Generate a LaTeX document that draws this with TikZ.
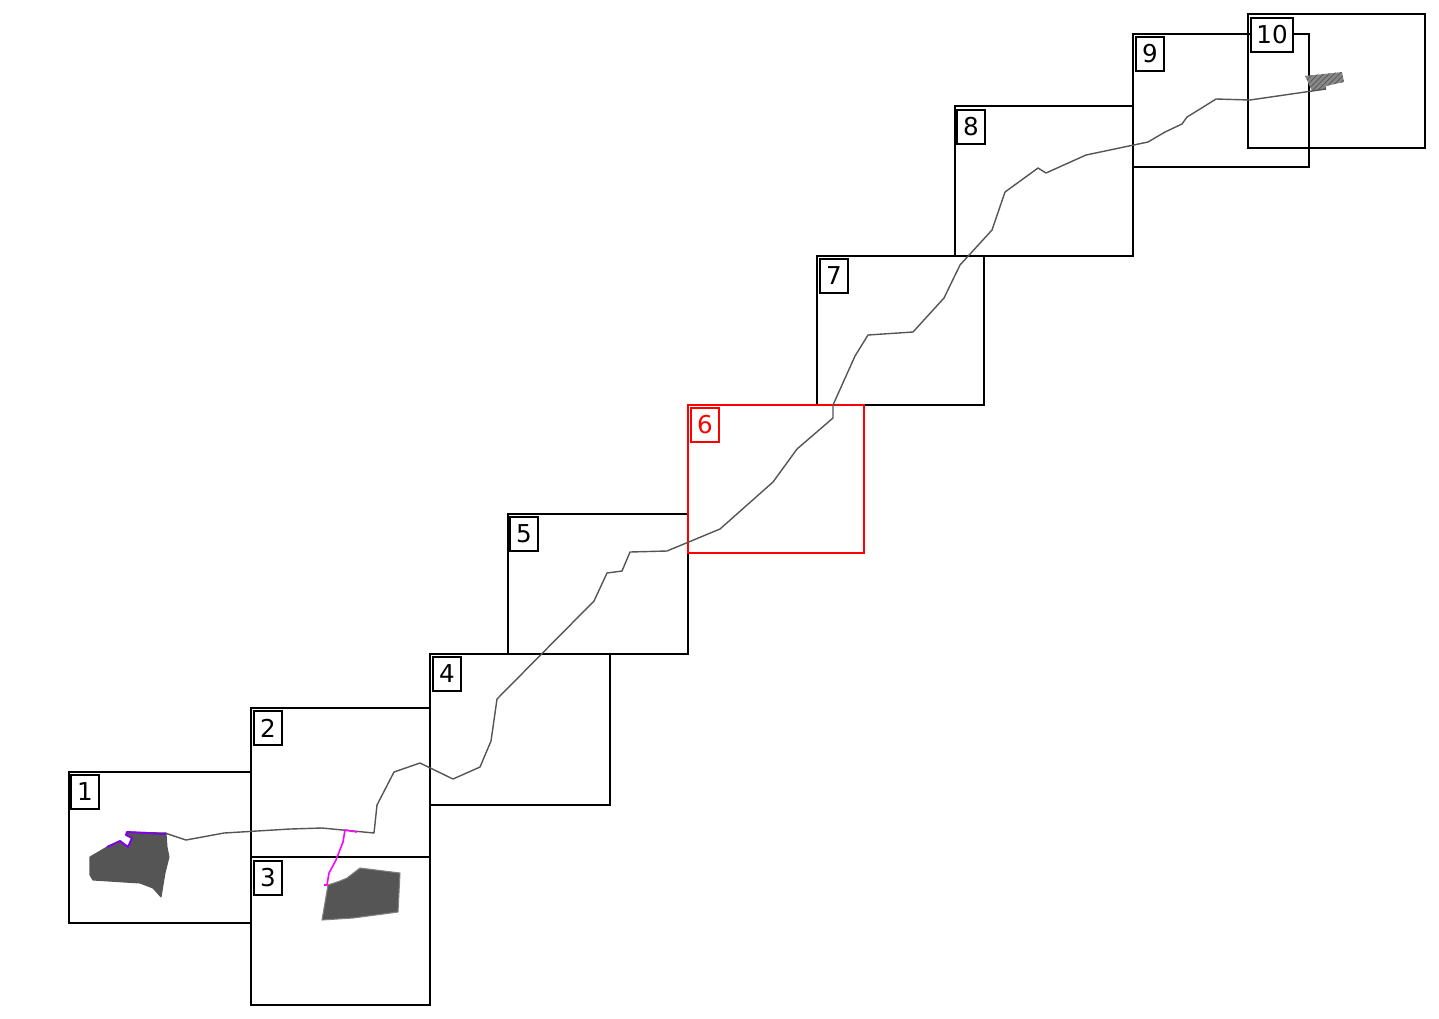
\documentclass[tikz,border=0pt]{standalone}
\usepackage{fontspec}
\setmainfont{DejaVu Sans}
\usetikzlibrary{patterns}
\definecolor{blobgray}{HTML}{555555}
\definecolor{pathviolet}{HTML}{7F00E6}
\definecolor{pathmagenta}{HTML}{FF00FF}

\begin{document}
\begin{tikzpicture}[x=0.02cm, y=-0.02cm,
   frame/.style={draw=black, line width=1.1pt},
   tag/.style={draw=black, fill=white, line width=1.1pt, minimum width=0.56cm, minimum height=0.68cm, inner sep=0pt, font=\fontsize{14}{16}\selectfont},
   track/.style={draw=blobgray, line width=0.8pt, line join=round},
   blob/.style={draw=gray, fill=blobgray, line width=0.6pt, line join=round}]

    \useasboundingbox (0,0) rectangle (1439,1018);

    % map frames
    \draw[frame] (69,772) rectangle (251,923);
    \draw[frame] (251,708) rectangle (430,857);
    \draw[frame] (251,857) rectangle (430,1005);
    \draw[frame] (430,654) rectangle (610,805);
    \draw[frame] (508,514) rectangle (688,654);
    \draw[frame] (817,256) rectangle (984,405);
    \draw[frame] (955,106) rectangle (1133,256);
    \draw[frame] (1133,34) rectangle (1309,167);
    \draw[frame] (1248,14) rectangle (1425,148);
    \draw[frame, draw=red] (688,405) rectangle (864,553);

    % areas
    \draw[blob, draw=blobgray] (127,832) -- (166,833) -- (167,847) -- (169,857) -- (165,873) -- (161,897)
       -- (153,888) -- (140,883) -- (93,880) -- (90,875) -- (90,857) -- (107,847) -- (120,841)
       -- (128,847) -- (132,838) -- (126,835) -- cycle;
    \draw[blob] (322,920) -- (328,885) -- (340,881) -- (347,878) -- (360,868) -- (400,873)
       -- (398,912) -- (353,918) -- cycle;
    \fill[blobgray!70] (1305,76) -- (1342,72) -- (1344,82) -- (1326,86) -- (1326,89) -- (1312,91) -- cycle;
    \fill[pattern=north east lines, pattern color=blobgray] (1305,76) -- (1342,72) -- (1344,82) -- (1326,86) -- (1326,89) -- (1312,91) -- cycle;

    % route
    \draw[track] (165,833) -- (186,840) -- (224,833) -- (290,829) -- (322,828) -- (374,833) -- (377,805)
       -- (394,772) -- (420,763) -- (453,779) -- (480,767) -- (491,741) -- (497,699) -- (594,601)
       -- (607,573) -- (622,571) -- (630,552) -- (667,551) -- (720,529) -- (773,482) -- (797,449)
       -- (833,418) -- (833,405) -- (855,356) -- (868,335) -- (913,332) -- (944,298) -- (960,265)
       -- (992,230) -- (1005,192) -- (1038,168) -- (1046,173) -- (1086,155) -- (1148,142) -- (1165,132)
       -- (1182,124) -- (1187,117) -- (1200,109) -- (1216,99) -- (1250,100) -- (1312,91) -- (1326,89);

    % highlighted parts
    \draw[pathviolet, line width=1.1pt, line join=round] (107,847) -- (120,841) -- (128,847) -- (132,838)
       -- (126,835) -- (127,832) -- (166,834);
    \draw[pathmagenta, line width=0.9pt, line join=round] (357,832) -- (345,830) -- (343,842) -- (336,860)
       -- (329,873) -- (327,885) -- (324,885);

    % labels
    \node[tag] (t1) at (85,792) {1};
    \node[tag] (t2) at (268,728) {2};
    \node[tag] (t3) at (268,878) {3};
    \node[tag] (t4) at (447,674) {4};
    \node[tag] (t5) at (524,534) {5};
    \node[tag, draw=red, text=red] (t6) at (705,425) {6};
    \node[tag] (t7) at (834,276) {7};
    \node[tag] (t8) at (971,127) {8};
    \node[tag] (t9) at (1150,54) {9};
    \node[tag, minimum width=0.84cm] (t10) at (1272,35) {10};
\end{tikzpicture}
\end{document}
